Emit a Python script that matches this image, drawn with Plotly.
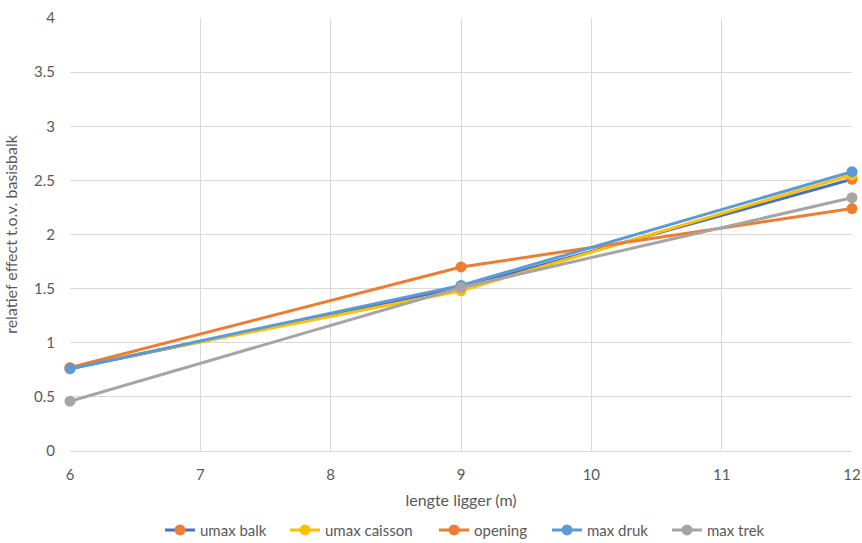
import plotly.graph_objects as go

# Beam length (m) and relative effect w.r.t. the base beam
lengte = [6, 9, 12]
umax_balk = [0.76, 1.51, 2.51]
umax_caisson = [0.77, 1.48, 2.55]
opening = [0.77, 1.70, 2.24]
max_druk = [0.76, 1.53, 2.58]
max_trek = [0.46, 1.51, 2.34]

series = [
    ("umax balk", umax_balk, "#4472C4", "#ED7D31"),
    ("umax caisson", umax_caisson, "#FFC000", "#FFC000"),
    ("opening", opening, "#ED7D31", "#ED7D31"),
    ("max druk", max_druk, "#5B9BD5", "#5B9BD5"),
    ("max trek", max_trek, "#A5A5A5", "#A5A5A5"),
]

# left edge (px) of each legend entry along the bottom row
legend_left_px = [160, 285, 434, 547, 667]
W, H = 862, 543

family = "Lato, Open Sans, sans-serif"
fig = go.Figure()
legends = {}
for i, (name, vals, line_col, marker_col) in enumerate(series):
    key = "legend" if i == 0 else f"legend{i + 1}"
    fig.add_trace(go.Scatter(
        x=lengte, y=vals, name=name, mode="lines+markers",
        line=dict(color=line_col, width=3),
        marker=dict(color=marker_col, size=11),
        cliponaxis=False, legend=key, showlegend=True,
    ))
    legends[key] = dict(
        orientation="h", xref="container", yref="container",
        x=legend_left_px[i] / W, xanchor="left",
        y=0.054, yanchor="top",
        font=dict(family=family, size=15, color="#595959"),
        bgcolor="rgba(0,0,0,0)",
    )

fig.update_layout(
    width=W, height=H, showlegend=True,
    margin=dict(l=70, r=10, t=18, b=92, autoexpand=False),
    paper_bgcolor="white", plot_bgcolor="white",
    font=dict(family=family, color="#595959", size=15),
    xaxis=dict(range=[6, 12], tickvals=[6, 7, 8, 9, 10, 11, 12],
               showgrid=True, gridcolor="#D9D9D9", gridwidth=1,
               showline=True, linecolor="#D9D9D9", zeroline=False,
               ticks="", tickfont=dict(size=15), ticklabelstandoff=10,
               automargin=False,
               title=dict(text="lengte ligger (m)", font=dict(size=16), standoff=12)),
    yaxis=dict(range=[0, 4], dtick=0.5, showgrid=True, gridcolor="#D9D9D9",
               gridwidth=1, zeroline=False, showline=False,
               ticks="", tickfont=dict(size=15), ticklabelstandoff=14,
               automargin=False,
               title=dict(text="relatief effect t.o.v. basisbalk", font=dict(size=16), standoff=12)),
    **legends,
)

fig.write_html("out.html")
